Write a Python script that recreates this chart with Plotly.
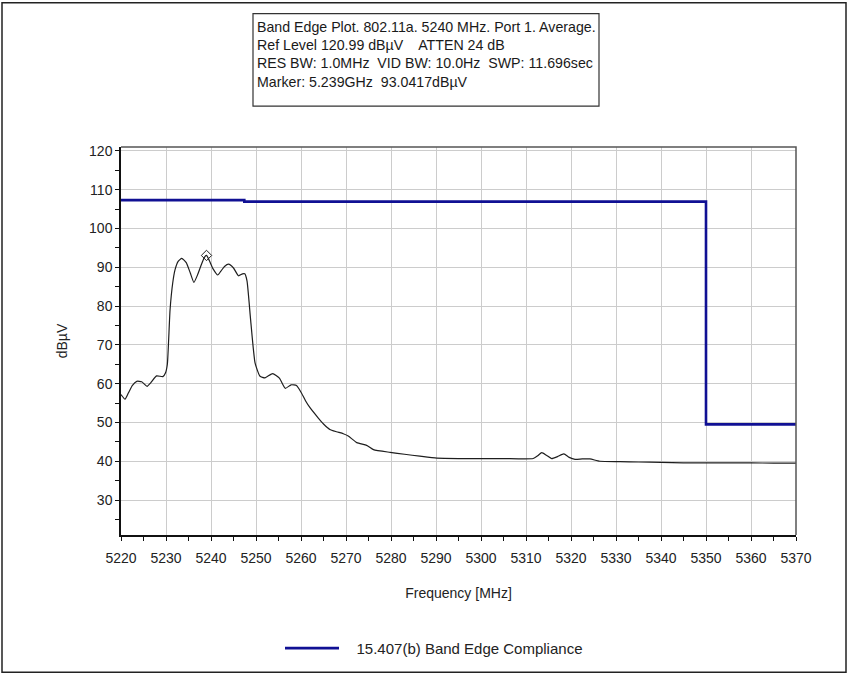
import plotly.graph_objects as go

# Measured trace (frequency MHz, level dBuV)
freq = [5220.0, 5220.9, 5221.6, 5222.5, 5223.5, 5224.6, 5225.8, 5226.6, 5227.9, 5229.3, 5229.9,
        5230.3, 5230.9, 5231.5, 5232.0, 5232.7, 5233.5, 5234.5, 5235.4, 5236.2, 5237.0, 5237.7,
        5238.5, 5239.0, 5239.6, 5240.5, 5241.5, 5242.2, 5243.0, 5243.9, 5245.0, 5246.1, 5247.0,
        5247.5, 5248.0, 5248.8, 5249.8, 5250.9, 5252.0, 5253.7, 5255.2, 5256.5, 5257.8, 5259.0,
        5260.1, 5261.0, 5262.0, 5263.8, 5265.0, 5266.4, 5267.9, 5269.4, 5270.5, 5272.4, 5274.6,
        5276.1, 5279.8, 5283.0, 5286.4, 5290.2, 5295.0, 5300.0, 5305.0, 5311.6, 5312.6, 5313.5,
        5314.6, 5315.7, 5317.0, 5318.4, 5319.6, 5320.9, 5322.5, 5324.2, 5326.4, 5330.9, 5335.0,
        5340.0, 5345.0, 5350.0, 5355.0, 5360.0, 5365.0, 5370.0]
level = [57.2, 56.0, 57.5, 59.5, 60.6, 60.5, 59.3, 60.2, 62.0, 61.8, 62.8,
         65.0, 79.0, 86.0, 89.3, 91.5, 92.3, 91.2, 88.5, 86.1, 88.0, 90.2,
         92.5, 93.04, 91.8, 89.5, 88.0, 89.0, 90.2, 90.8, 89.8, 87.8, 88.3,
         88.3, 86.5, 76.5, 65.3, 61.9, 61.5, 62.6, 61.4, 58.8, 59.7, 59.5,
         57.6, 55.6, 53.8, 51.2, 49.6, 48.2, 47.6, 47.1, 46.5, 44.8, 44.1,
         43.0, 42.3, 41.8, 41.3, 40.8, 40.7, 40.7, 40.7, 40.7, 41.4, 42.2,
         41.5, 40.7, 41.2, 41.9, 41.0, 40.5, 40.6, 40.6, 40.0, 39.9, 39.8,
         39.7, 39.6, 39.6, 39.6, 39.6, 39.5, 39.5]

# Band edge limit line
limit_freq = [5220.0, 5247.4, 5247.4, 5350.0, 5350.0, 5370.0]
limit_level = [107.3, 107.3, 106.9, 106.9, 49.5, 49.5]
limit_name = "15.407(b) Band Edge Compliance"

# Marker
marker_freq = [5239.0]
marker_level = [93.04]

info_lines = [
    "Band Edge Plot. 802.11a. 5240 MHz. Port 1. Average.",
    "Ref Level 120.99 dBµV    ATTEN 24 dB",
    "RES BW: 1.0MHz  VID BW: 10.0Hz  SWP: 11.696sec",
    "Marker: 5.239GHz  93.0417dBµV",
]

x_ticks = list(range(5220, 5371, 10))
y_ticks = list(range(30, 121, 10))

FONT = "Liberation Sans, Arial, sans-serif"

fig = go.Figure()
fig.add_trace(go.Scatter(x=freq, y=level, mode="lines",
                         line=dict(color="#1e1e1e", width=1.2, shape="spline", smoothing=0.5),
                         showlegend=False))
fig.add_trace(go.Scatter(x=limit_freq, y=limit_level, mode="lines",
                         name="\u00a0\u00a0\u00a0" + limit_name,
                         line=dict(color="#101094", width=2.6)))
fig.add_trace(go.Scatter(x=marker_freq, y=marker_level, mode="markers", showlegend=False,
                         marker=dict(symbol="diamond-open", size=8, color="#1e1e1e",
                                     line=dict(width=1))))

W, H = 849, 677
L, R, T, B = 121, 796, 147, 537
pw, ph = R - L, B - T


def px(xp):
    return (xp - L) / pw


def py(yp):
    return (B - yp) / ph


# outer frame
fig.add_shape(type="rect", xref="paper", yref="paper",
              x0=px(2), x1=px(846), y0=py(675), y1=py(2),
              line=dict(color="#222222", width=1.5))
# info box
fig.add_shape(type="rect", xref="paper", yref="paper",
              x0=px(253), x1=px(599), y0=py(106), y1=py(13),
              line=dict(color="#333333", width=1.2))
for i, t in enumerate(info_lines):
    fig.add_annotation(text=t, xref="paper", yref="paper", x=px(255), y=py(26 + 18.4 * i),
                       xanchor="left", yanchor="middle", showarrow=False,
                       font=dict(family=FONT, size=14.2, color="#1a1a1a"))
# plot top/right border
fig.add_shape(type="path", xref="paper", yref="paper",
              path="M 0 1 L 1 1 L 1 0", line=dict(color="#555555", width=1.5))

fig.update_layout(
    width=W, height=H,
    margin=dict(l=L, r=W - R, t=T, b=H - B, pad=0),
    paper_bgcolor="white", plot_bgcolor="white",
    font=dict(family=FONT, size=14, color="#222222"),
    legend=dict(orientation="h", x=px(280), y=py(651), xanchor="left", yanchor="middle",
                font=dict(family=FONT, size=15, color="#222222"), itemwidth=54,
                bgcolor="rgba(0,0,0,0)"),
    xaxis=dict(range=[5220, 5370], tickvals=x_ticks, ticktext=[str(v) for v in x_ticks],
               showgrid=True, gridcolor="#cccccc", gridwidth=1,
               showline=True, linecolor="#111111", linewidth=1.5,
               ticks="outside", ticklen=4, tickcolor="#111111", ticklabelstandoff=5,
               minor=dict(dtick=5, tick0=5220, ticks="outside", ticklen=4, tickcolor="#111111",
                          showgrid=False),
               zeroline=False,
               title=dict(text="Frequency [MHz]", standoff=24, font=dict(size=14))),
    yaxis=dict(range=[20.99, 120.99], tickvals=y_ticks, ticktext=[str(v) for v in y_ticks],
               showgrid=True, gridcolor="#cccccc", gridwidth=1,
               showline=True, linecolor="#111111", linewidth=1.5,
               ticks="outside", ticklen=4, tickcolor="#111111", ticklabelstandoff=0,
               minor=dict(dtick=5, tick0=0, ticks="outside", ticklen=4, tickcolor="#111111",
                          showgrid=False),
               zeroline=False,
               title=dict(text="dBµV", standoff=18, font=dict(size=14))),
)

fig.write_html("out.html", config={"displayModeBar": False},
               post_script="document.body.style.margin='0px';document.body.style.overflow='hidden';")
